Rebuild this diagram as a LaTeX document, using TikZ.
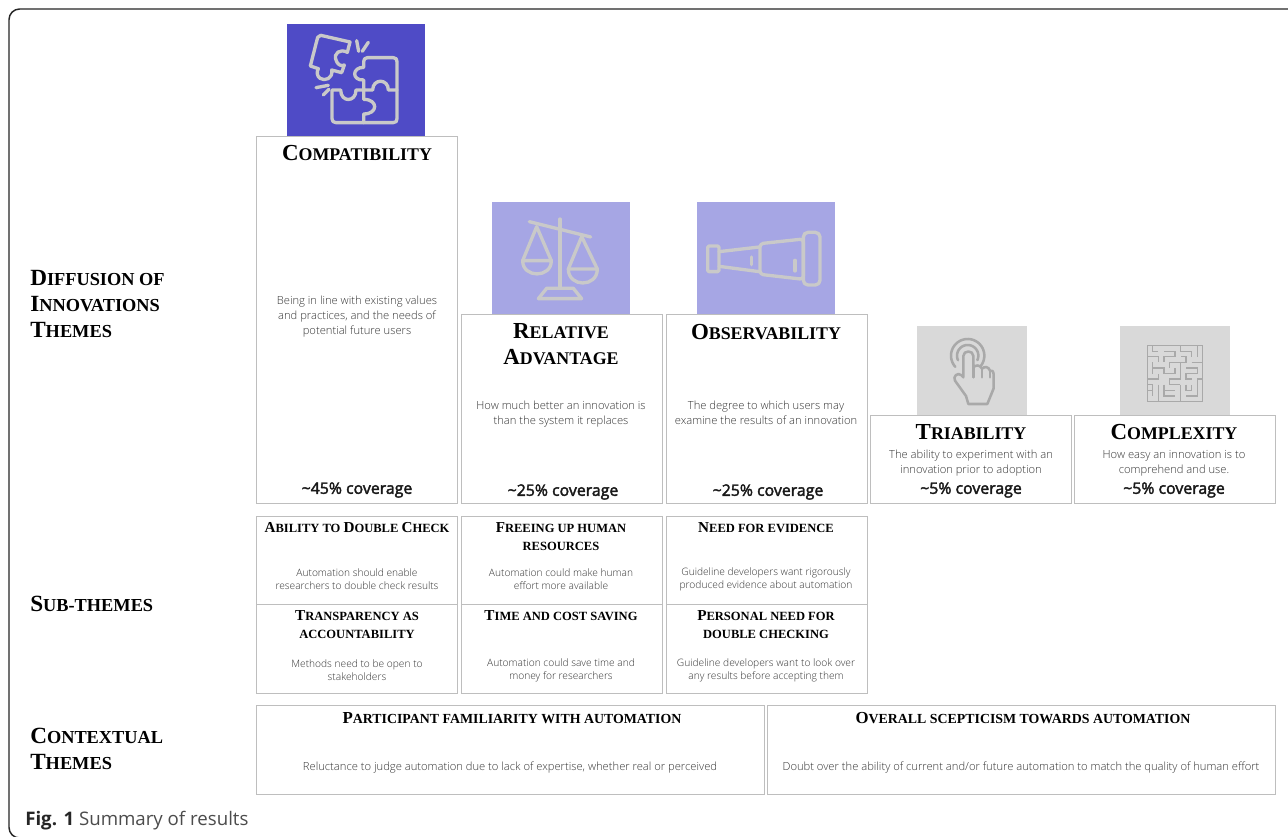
\documentclass[tikz,border=0pt]{standalone}
\usepackage{fontspec}
\setmainfont{Liberation Serif}
\newfontfamily\bodyf{Open Sans Light}
\newfontfamily\covf[FakeBold=2.4]{Open Sans}
\newfontfamily\capf{Open Sans}
\definecolor{bdr}{HTML}{BEBEBE}
\definecolor{dkblue}{HTML}{4F4BC6}
\definecolor{ltblue}{HTML}{A6A6E4}
\definecolor{ltgray}{HTML}{D9D9D9}
\definecolor{ico}{HTML}{C9C9C9}
\definecolor{ico2}{HTML}{A9A9A9}
\definecolor{bodyc}{HTML}{363636}
\newcommand{\tA}[2]{{\fontsize{17.2pt}{19.5pt}\selectfont #1}{\fontsize{13.4pt}{19.5pt}\selectfont #2}}
\newcommand{\tB}[2]{{\fontsize{11.4pt}{13.5pt}\selectfont #1}{\fontsize{9.4pt}{13.5pt}\selectfont #2}}
\newcommand{\tK}[2]{{\fontsize{12.6pt}{13.5pt}\selectfont #1}{\fontsize{10.4pt}{13.5pt}\selectfont #2}}
\newcommand{\tL}[2]{{\fontsize{17.4pt}{19.5pt}\selectfont #1}{\fontsize{13.75pt}{19.5pt}\selectfont #2}}
\tikzset{
 cellbox/.style={draw=bdr,line width=0.7pt,fill=white},
 hd/.style={font=\bfseries\fontsize{17.2pt}{19.5pt}\selectfont,align=center,inner sep=0pt,text=black},
 hds/.style={font=\bfseries\fontsize{11.4pt}{13.5pt}\selectfont,align=center,inner sep=0pt,text=black},
 lbl/.style={font=\bfseries\fontsize{17.1pt}{19.5pt}\selectfont,align=left,anchor=west,inner sep=0pt,text=black},
 bd/.style={font=\bodyf\fontsize{8.4pt}{11.25pt}\selectfont,align=center,inner sep=0pt,text=bodyc},
 bds/.style={font=\bodyf\fontsize{7.65pt}{9.75pt}\selectfont,align=center,inner sep=0pt,text=bodyc},
 cov/.style={font=\covf\fontsize{11.9pt}{13pt}\selectfont,inner sep=0pt,text=black!90},
 icA/.style={draw=ico,line width=2.5pt,line join=round,line cap=round},
 icB/.style={draw=ico2,line width=1.9pt,line join=round,line cap=round},
 mz/.style={draw=ico2,line width=1.15pt,line join=miter},
}
\begin{document}
\begin{tikzpicture}[x=0.75pt,y=-0.75pt]
\useasboundingbox (0,0) rectangle (1288,837);
\fill[white] (0,0) rectangle (1288,837);
\draw[line width=1.1pt,black!85,rounded corners=8pt] (1300,9) -- (9,9) -- (9,838) -- (1300,838);
% icon backgrounds
\fill[dkblue] (287,24) rectangle (425,136);
\fill[ltblue] (492,202) rectangle (630,314);
\fill[ltblue] (697,202) rectangle (835,314);
\fill[ltgray] (917,326) rectangle (1027,415);
\fill[ltgray] (1120,326) rectangle (1230,415);
% puzzle icon
\begin{scope}[shift={(250,10)},x=0.25pt,y=-0.25pt]
\draw[icA] (212,76) -- (300,96) -- (292,127) .. controls (270,115) and (250,130) .. (258,150) .. controls (262,165) and (275,170) .. (283,165) -- (275,188) -- (245,180) .. controls (250,205) and (225,215) .. (210,205) .. controls (200,198) and (200,185) .. (205,176) -- (181,168) -- (203,82) -- cycle;
\draw[icA] (352,143) -- (430,143) .. controls (438,143) and (441,148) .. (441,155) -- (441,240) -- (415,240) .. controls (415,205) and (368,205) .. (368,240) -- (341,240) -- (341,210) .. controls (305,212) and (305,172) .. (341,172) -- (341,155) .. controls (341,148) and (345,143) .. (352,143);
\draw[icA] (246,240) -- (272,240) .. controls (272,278) and (318,278) .. (318,240) -- (341,240) -- (341,268) .. controls (385,268) and (385,312) .. (341,312) -- (341,338) -- (258,338) .. controls (250,338) and (246,333) .. (246,326) -- cycle;
\draw[icA] (341,338) -- (430,338) .. controls (438,338) and (441,333) .. (441,326) -- (441,240);
\draw[icA] (320,92) -- (326,124);
\draw[icA] (355,97) -- (337,124);
\draw[icA] (198,233) -- (235,226);
\draw[icA] (220,255) -- (237,238);
\end{scope}
% scales icon
\begin{scope}[shift={(480,195)},x=0.25pt,y=-0.25pt]
\draw[icA] (148,80) -- (332,126);
\draw[icA] (240,72) -- (240,280);
\draw[icA] (175,311) -- (305,311) -- (280,280) -- (200,280) -- cycle;
\draw[icA] (128,197) -- (170,95) -- (214,197);
\draw[icA] (128,197) -- (214,197) .. controls (214,250) and (128,250) .. (128,197) -- cycle;
\draw[icA] (265,222) -- (305,125) -- (352,222);
\draw[icA] (265,222) -- (352,222) .. controls (352,278) and (265,278) .. (265,222) -- cycle;
% spyglass icon
\draw[icA,rounded corners=1pt] (683,153) rectangle (717,230);
\draw[icA] (717,170) -- (838,156);
\draw[icA] (717,214) -- (838,230);
\draw[icA,rounded corners=2.5pt] (840,146) -- (970,132) -- (970,253) -- (840,238) -- cycle;
\draw[icA,rounded corners=3.5pt] (970,112) rectangle (1020,270);
\draw[icA] (815,186) -- (815,209);
\draw[icA] (945,196) -- (945,228);
\end{scope}
% hand icon
\begin{scope}[shift={(900,320)},x=0.25pt,y=-0.25pt]
\draw[icB] plot[domain=-40:222,samples=40,smooth] ({203+50*cos(\x)},{107-50*sin(\x)});
\draw[icB] plot[domain=-25:205,samples=30,smooth] ({203+32*cos(\x)},{107-32*sin(\x)});
\draw[icB] (190,172) -- (190,108) .. controls (190,90) and (220,90) .. (220,108) -- (220,142) .. controls (228,134) and (240,134) .. (246,146) .. controls (254,138) and (266,140) .. (270,152) .. controls (276,148) and (281,155) .. (281,165) -- (281,205) -- (262,252) -- (205,252) -- (198,228) -- (165,182) .. controls (158,170) and (172,155) .. (185,166) -- (190,172);
\draw[icB] (246,146) -- (246,172);
\draw[icB] (220,142) -- (220,172);
\draw[icB] (270,152) -- (270,172);
\end{scope}
% maze icon
\begin{scope}[shift={(1130,340)},x=0.25pt,y=-0.25pt]
\draw[mz] (52,17) rectangle (218,185);
\draw[mz] (68,17) -- (68,34) -- (85,34);
\draw[mz] (52,50) -- (85,50) -- (85,67);
\draw[mz] (102,34) -- (135,34) -- (135,50) -- (102,50) -- (102,67);
\draw[mz] (152,17) -- (152,34) -- (185,34) -- (185,50);
\draw[mz] (202,17) -- (202,50);
\draw[mz] (118,84) -- (118,67) -- (168,67) -- (168,50) -- (152,50);
\draw[mz] (68,67) -- (68,101);
\draw[mz] (68,84) -- (102,84) -- (102,101) -- (135,101) -- (135,84);
\draw[mz] (152,67) -- (152,117) -- (118,117) -- (118,134) -- (150,134);
\draw[mz] (185,67) -- (218,67);
\draw[mz] (168,84) -- (202,84) -- (202,101) -- (168,101) -- (168,117) -- (185,117);
\draw[mz] (218,117) -- (202,117) -- (202,168) -- (168,168);
\draw[mz] (52,117) -- (85,117) -- (85,101);
\draw[mz] (52,134) -- (68,134) -- (68,168);
\draw[mz] (52,151) -- (68,151);
\draw[mz] (85,134) -- (85,185);
\draw[mz] (102,134) -- (102,168) -- (135,168);
\draw[mz] (102,151) -- (135,151);
\draw[mz] (168,134) -- (168,151) -- (185,151) -- (185,134);
\draw[mz] (152,134) -- (152,185);
\end{scope}
% boxes
\draw[cellbox] (256,136) rectangle (457,503);
\draw[cellbox] (461,314) rectangle (662,503);
\draw[cellbox] (666,314) rectangle (867,503);
\draw[cellbox] (870,415) rectangle (1071,503);
\draw[cellbox] (1074,415) rectangle (1275,503);
\foreach \xa/\xb in {256/457,461/662,666/867}{
 \draw[cellbox] (\xa,516) rectangle (\xb,604);
 \draw[cellbox] (\xa,604) rectangle (\xb,693);
}
\draw[cellbox] (256,705) rectangle (764,794);
\draw[cellbox] (767,705) rectangle (1275,794);
% left labels
\node[lbl] (l1) at (30,304) {\tL{D}{IFFUSION OF}\\\tL{I}{NNOVATIONS}\\\tL{T}{HEMES}};
\node[lbl] (l2) at (30,604) {\tL{S}{UB-THEMES}};
\node[lbl] (l3) at (30,749) {\tL{C}{ONTEXTUAL}\\\tL{T}{HEMES}};
% theme heads
\node[hd] (h1) at (357,153) {\tA{C}{OMPATIBILITY}};
\node[hd] (h2) at (561,344) {\tA{R}{ELATIVE}\\\tA{A}{DVANTAGE}};
\node[hd] (h3) at (766,332) {\tA{O}{BSERVABILITY}};
\node[hd] (h4) at (971,432) {\tA{T}{RIABILITY}};
\node[hd] (h5) at (1174,432) {\tA{C}{OMPLEXITY}};
% theme text
\node[bd] (b1) at (357,317) {Being in line with existing values\\and practices, and the needs of\\potential future users};
\node[bd] (b2) at (561,414) {How much better an innovation is\\than the system it replaces};
\node[bd] (b3) at (766,413) {The degree to which users may\\examine the results of an innovation};
\node[bd] (b4) at (971,463) {The ability to experiment with an\\innovation prior to adoption};
\node[bd] (b5) at (1174,463) {How easy an innovation is to\\comprehend and use.};
\node[cov] (c1) at (357,490) {\textasciitilde45\% coverage};
\node[cov] (c2) at (563,492) {\textasciitilde25\% coverage};
\node[cov] (c3) at (768,492) {\textasciitilde25\% coverage};
\node[cov] (c4) at (971,490) {\textasciitilde5\% coverage};
\node[cov] (c5) at (1174,490) {\textasciitilde5\% coverage};
% sub-themes
\node[hds] (s1) at (357,528) {\tB{A}{BILITY TO }\tB{D}{OUBLE }\tB{C}{HECK}};
\node[hds] (s2) at (561,537) {\tB{F}{REEING UP HUMAN}\\\tB{}{RESOURCES}};
\node[hds] (s3) at (766,528) {\tB{N}{EED FOR EVIDENCE}};
\node[hds] (s4) at (357,625) {\tB{T}{RANSPARENCY AS}\\\tB{}{ACCOUNTABILITY}};
\node[hds] (s5) at (561,616) {\tB{T}{IME AND COST SAVING}};
\node[hds] (s6) at (766,625) {\tB{P}{ERSONAL NEED FOR}\\\tB{}{DOUBLE CHECKING}};
\node[bds] (t1) at (357,579) {Automation should enable\\researchers to double check results};
\node[bds] (t2) at (561,579) {Automation could make human\\effort more available};
\node[bds] (t3) at (766,579) {Guideline developers want rigorously\\produced evidence about automation};
\node[bds] (t4) at (357,670) {Methods need to be open to\\stakeholders};
\node[bds] (t5) at (561,670) {Automation could save time and\\money for researchers};
\node[bds] (t6) at (766,670) {Guideline developers want to look over\\any results before accepting them};
% contextual
\node[hds] (k1) at (512,718) {\tK{P}{ARTICIPANT FAMILIARITY WITH AUTOMATION}};
\node[hds] (k2) at (1023,718) {\tK{O}{VERALL SCEPTICISM TOWARDS AUTOMATION}};
\node[bd] (k3) at (510,768) {Reluctance to judge automation due to lack of expertise, whether real or perceived};
\node[bd] (k4) at (1021,768) {Doubt over the ability of current and/or future automation to match the quality of human effort};
% caption
\node[inner sep=0pt,anchor=west,text=black!70,font=\capf\fontsize{14pt}{15pt}\selectfont] (cap) at (25,820.5) {{\color{black!85}\textbf{Fig. 1}} Summary of results};
\end{tikzpicture}
\end{document}
